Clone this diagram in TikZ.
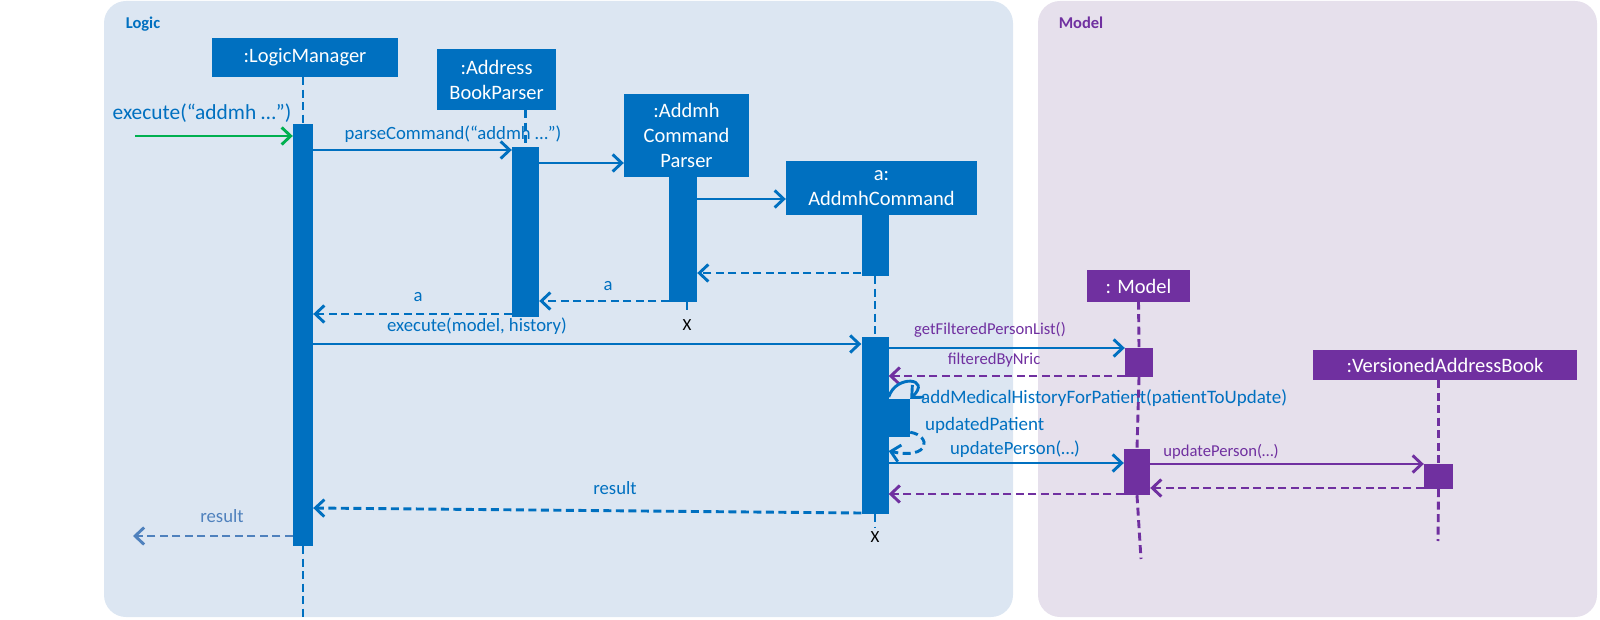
\documentclass[tikz,border=0pt]{standalone}
\usepackage{fontspec}
\setmainfont{Carlito}
\usetikzlibrary{arrows.meta}
\definecolor{lblue}{HTML}{0070C0}
\definecolor{mpurple}{HTML}{7030A0}
\definecolor{lgreen}{HTML}{00B050}
\definecolor{panelL}{HTML}{DCE6F2}
\definecolor{panelM}{HTML}{E6E0EC}
\definecolor{resblue}{HTML}{4F81BD}
\newcommand\myfs[2]{\fontsize{#1}{#2}\selectfont}
\begin{document}
\begin{tikzpicture}[x=1pt,y=-1pt,
  panelbox/.style={rounded corners=22pt,inner sep=0pt,draw=none},
  grp/.style={inner sep=0pt,font=\myfs{16.5}{20}\bfseries},
  obj/.style={fill=lblue,text=white,inner sep=0pt,align=center,font=\myfs{20.5}{25}},
  pobj/.style={obj,fill=mpurple},
  act/.style={fill=lblue,inner sep=0pt,draw=none},
  pact/.style={act,fill=mpurple},
  life/.style={lblue,line width=2.9pt,dash pattern=on 8pt off 4.5pt},
  plife/.style={life,mpurple},
  msg/.style={lblue,line width=2.9pt,-{Straight Barb[length=9pt,width=17pt]}},
  ret/.style={msg,dash pattern=on 8pt off 4.5pt},
  lab/.style={inner sep=0pt,text=lblue,font=\myfs{18.7}{22}},
  plab/.style={inner sep=0pt,text=mpurple,font=\myfs{16.6}{20}},
  xmark/.style={inner sep=0pt,text=black,font=\myfs{17}{20}}
]
\useasboundingbox (0,0) rectangle (1600,620);
% panels
\node[panelbox,fill=panelL,minimum width=909pt,minimum height=616pt] (logicPanel) at (558.5,309) {};
\node[panelbox,fill=panelM,minimum width=559pt,minimum height=616pt] (modelPanel) at (1317.5,309) {};
\node[grp,text=lblue] (logicLbl) at (143,24) {Logic};
\node[grp,text=mpurple] (modelLbl) at (1081,23) {Model};

% message labels
\node[lab,font=\myfs{21.4}{24}] (lExec) at (202,113) {execute(“addmh …”)};
\node[lab] (lParse) at (453,134) {parseCommand(“addmh …”)};
\node[lab] (lA2) at (608,286) {a};
\node[lab] (lA1) at (418,297) {a};
\node[lab] (lExec2) at (477,326) {execute(model, history)};
\node[plab] (lGet) at (990,330) {getFilteredPersonList()};
\node[plab] (lFilt) at (994,360) {filteredByNric};
\node[lab,anchor=west,font=\myfs{19}{22}] (lAdd) at (921,398) {addMedicalHistoryForPatient(patientToUpdate)};
\node[lab,anchor=west,font=\myfs{19}{22}] (lUpd) at (925,425) {updatedPatient};
\node[lab] (lUpP) at (1015,449) {updatePerson(…)};
\node[plab] (lUpP2) at (1221,452) {updatePerson(…)};
\node[lab] (lRes1) at (615,488) {result};
\node[lab,text=resblue] (lRes2) at (222,516) {result};

% free ends
\coordinate (inStart) at (135,136);
\coordinate (outEnd) at (133,536);
\coordinate (lmEnd) at (303,617);
\coordinate (acpEnd) at (687,314);
\coordinate (acEnd) at (875,527);
\coordinate (mEnd) at (1141,559);
\coordinate (vEnd) at (1438,541);

% activations
\node[act,minimum width=20pt,minimum height=422pt] (lmA) at (303,335) {};
\node[act,minimum width=27pt,minimum height=170pt] (abpA) at (525.5,232) {};
\node[act,minimum width=28pt,minimum height=125pt] (acpA) at (683,239.5) {};
\node[act,minimum width=27pt,minimum height=61pt] (acA1) at (875,245.5) {};
\node[act,minimum width=27pt,minimum height=177pt] (acA2) at (875,425.5) {};
\node[act,minimum width=21.5pt,minimum height=38pt] (acS) at (899.25,418) {};
\node[pact,minimum width=28pt,minimum height=29pt] (mA1) at (1139,362.5) {};
\node[pact,minimum width=26pt,minimum height=46pt] (mA2) at (1137,472) {};
\node[pact,minimum width=29pt,minimum height=25pt] (vA) at (1438.5,476.5) {};

% objects
\node[obj,minimum width=186pt,minimum height=39pt] (lm) at (305,57.5) {:LogicManager};
\node[obj,minimum width=119pt,minimum height=61pt] (abp) at (496.5,79.5) {:Address\\BookParser};
\node[obj,minimum width=125pt,minimum height=83pt] (acp) at (686.5,135.5) {:Addmh\\Command\\Parser};
\node[obj,minimum width=191pt,minimum height=54pt] (ac) at (881.5,188) {a:\\AddmhCommand};
\node[pobj,minimum width=103pt,minimum height=31pt] (model) at (1138.5,286) {: Model};
\node[pobj,minimum width=264pt,minimum height=30pt] (vab) at (1445,365) {:VersionedAddressBook};

% lifelines
\draw[life] (lmA |- lm.south) -- (lmA.north);
\draw[life] (lmA.south) -- (lmEnd);
\draw[life] (abpA |- abp.south) -- (abpA.north);
\draw[life] (acpEnd |- acpA.south) -- (acpEnd);
\draw[life] (acA1.south) -- (acA2.north);
\draw[life] (acA2.south) -- (acEnd);
\draw[plife] (model.south) -- (mA1.north);
\draw[plife] (mA1.south) -- (mA2.north);
\draw[plife] (mA2.south) -- (mEnd);
\draw[plife] (vA |- vab.south) -- (vA.north);
\draw[plife] (vA.south) -- (vEnd);
\node[xmark] (x1) at (687,325) {X};
\node[xmark] (x2) at (875,537) {X};

% messages
\draw[msg,lgreen] (inStart) -- (lmA.west |- inStart);
\draw[msg] (lmA.east |- 0,150) -- (abpA.west |- 0,150);
\draw[msg] (abpA.east |- 0,163) -- (acp.west |- 0,163);
\draw[msg] (acpA.east |- 0,199) -- (ac.west |- 0,199);
\draw[ret] (acA1.west |- 0,273) -- (acpA.east |- 0,273);
\draw[ret] (acpA.west |- 0,301) -- (abpA.east |- 0,301);
\draw[ret] (abpA.west |- 0,314) -- (lmA.east |- 0,314);
\draw[msg] (lmA.east |- 0,344) -- (acA2.west |- 0,344);
\draw[msg] (acA2.east |- 0,348) -- (mA1.west |- 0,348);
\draw[ret,mpurple] (mA1.west |- 0,376) -- (acA2.east |- 0,376);
\draw[msg] (acA2.east |- 0,397) .. controls (896,374) and (932,378) .. (acS.north east);
\draw[ret] ([yshift=5pt]acS.south east) .. controls (932,436) and (930,460) .. (acA2.east |- 0,451);
\draw[msg] (acA2.east |- 0,463) -- (mA2.west |- 0,463);
\draw[msg,mpurple] (mA2.east |- 0,464) -- (vA.west |- 0,464);
\draw[ret,mpurple] (vA.west |- 0,488) -- (mA2.east |- 0,488);
\draw[ret,mpurple] (mA2.west |- 0,494) -- (acA2.east |- 0,494);
\draw[ret] (acA2.west |- 0,513) -- (lmA.east |- 0,508);
\draw[ret,resblue] (lmA.west |- 0,536) -- (outEnd);
\end{tikzpicture}
\end{document}
